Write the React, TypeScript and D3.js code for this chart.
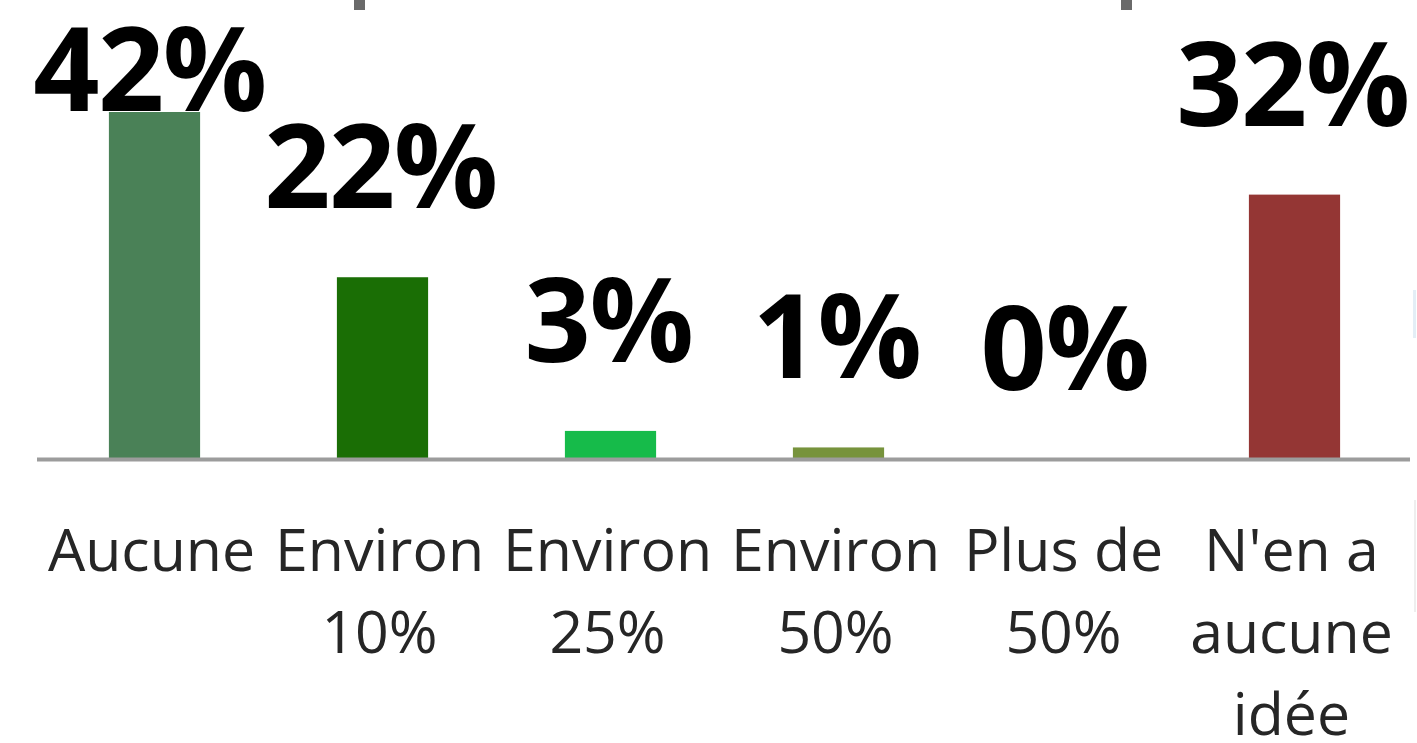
import React from "react";
import * as d3 from "d3";

const categories: string[][] = [
  ["Aucune"],
  ["Environ", "10%"],
  ["Environ", "25%"],
  ["Environ", "50%"],
  ["Plus de", "50%"],
  ["N'en a", "aucune", "idée"],
];
const values: number[] = [42, 22, 3.4, 1.4, 0, 32];
const colors: string[] = ["#4a8157", "#1a6e05", "#16bb4a", "#77933c", "#6f9a3c", "#943634"];

const W = 1417;
const H = 743;

export default function App() {
  const keys = categories.map((c) => c.join(" "));
  const x = d3.scaleBand<string>().domain(keys).range([40.5, 1408.5]).paddingInner(0.6).paddingOuter(0.3);
  const y = d3.scaleLinear().domain([0, 42]).range([459, 112]);
  const labelFont = "'Open Sans', 'DejaVu Sans', sans-serif";

  return (
    <svg
      width={W}
      height={H}
      style={{ position: "absolute", left: 0, top: 0, background: "#fff" }}
    >
      <rect x={0} y={0} width={W} height={H} fill="#fff" />
      {/* fragments of an adjacent chart */}
      <rect x={354} y={0} width={11} height={10} fill="#6a6a6a" />
      <rect x={1121} y={0} width={11} height={10} fill="#6a6a6a" />
      <rect x={1413} y={290} width={3} height={48} fill="#e3eef6" />
      <rect x={1414} y={500} width={2} height={112} fill="#eeeeee" />

      {values.map((v, i) => (
        <rect
          key={"b" + i}
          x={x(keys[i])!}
          y={y(v)}
          width={x.bandwidth()}
          height={y(0) - y(v)}
          fill={colors[i]}
        />
      ))}

      <line x1={37} x2={1410} y1={459.5} y2={459.5} stroke="#9c9c9c" strokeWidth={4} />

      {values.map((v, i) => (
        <text
          key={"l" + i}
          x={x(keys[i])! + x.bandwidth() / 2 - (i === 0 ? 5 : 2)}
          y={Math.max(111, y(v) - 69)}
          textAnchor="middle"
          fontFamily={labelFont}
          fontWeight={700}
          fontSize={116}
          fill="#000"
          letterSpacing={-1.5}
        >
          {Math.round(v) + "%"}
        </text>
      ))}

      {categories.map((lines, i) =>
        lines.map((t, j) => (
          <text
            key={"c" + i + "_" + j}
            x={x(keys[i])! + x.bandwidth() / 2 - 3}
            y={571 + j * 82}
            textAnchor="middle"
            fontFamily={labelFont}
            fontSize={59}
            fill="#262626"
          >
            {t}
          </text>
        ))
      )}
    </svg>
  );
}
